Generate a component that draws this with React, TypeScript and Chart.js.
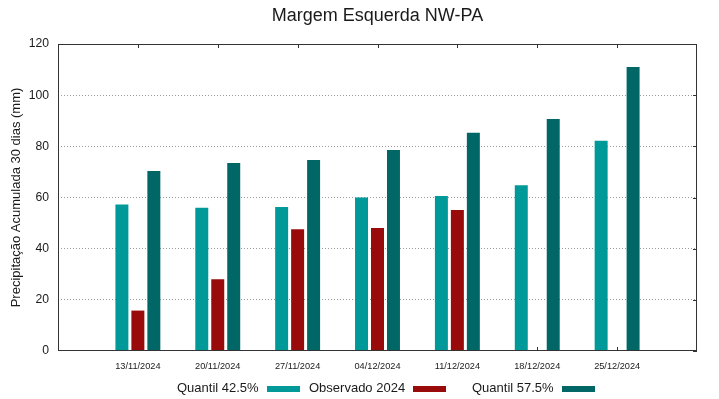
import React, { useEffect, useRef } from "react";
import { Chart, registerables } from "chart.js";

Chart.register(...registerables);

const titleText = "Margem Esquerda NW-PA";
const yAxisTitle = "Precipitação Acumulada 30 dias (mm)";
const categories = [
  "13/11/2024",
  "20/11/2024",
  "27/11/2024",
  "04/12/2024",
  "11/12/2024",
  "18/12/2024",
  "25/12/2024",
];
const quantil425 = [57.3, 56.0, 56.3, 60.0, 60.6, 64.8, 82.2];
const observado2024 = [15.8, 28.0, 47.6, 48.1, 55.1, null, null];
const quantil575 = [70.4, 73.5, 74.7, 78.6, 85.3, 90.7, 111.0];
const seriesLabels = ["Quantil 42.5%", "Observado 2024", "Quantil 57.5%"];
const seriesColors = ["#009999", "#990a0a", "#006666"];
const yMin = 0;
const yMax = 120;
const yStep = 20;

const FONT = "'Liberation Sans', Arial, sans-serif";
const TEXT = "#1a1a1a";

const pad = (arr: (number | null)[]) => [null, ...arr, null];

const framePlugin = {
  id: "frame",
  beforeDatasetsDraw(chart: any) {
    const { ctx, chartArea: a, scales } = chart;
    ctx.save();
    ctx.strokeStyle = "#333";
    ctx.lineWidth = 1;
    ctx.beginPath();
    for (let i = 1; i <= categories.length; i++) {
      const px = Math.round(scales.x.getPixelForValue(i)) + 0.5;
      ctx.moveTo(px, a.bottom);
      ctx.lineTo(px, a.bottom - 4);
      ctx.moveTo(px, a.top);
      ctx.lineTo(px, a.top + 4);
    }
    scales.y.ticks.forEach((t: any) => {
      const py = Math.round(scales.y.getPixelForValue(t.value)) + 0.5;
      ctx.moveTo(a.right, py);
      ctx.lineTo(a.right - 4, py);
    });
    ctx.stroke();
    ctx.restore();
  },
  afterDatasetsDraw(chart: any) {
    const { ctx, chartArea: a } = chart;
    ctx.save();
    ctx.strokeStyle = "#333";
    ctx.lineWidth = 1;
    ctx.strokeRect(
      Math.round(a.left) + 0.5,
      Math.round(a.top) + 0.5,
      Math.round(a.right) - Math.round(a.left) - 1,
      Math.round(a.bottom) - Math.round(a.top) - 1
    );
    ctx.restore();
  },
};

const legendPlugin = {
  id: "bottomLegend",
  afterDraw(chart: any) {
    const { ctx } = chart;
    const starts = [177, 309, 472];
    const cy = 388.5;
    ctx.save();
    ctx.font = `13px ${FONT}`;
    ctx.textBaseline = "middle";
    ctx.textAlign = "left";
    chart.data.datasets.forEach((ds: any, i: number) => {
      const x0 = starts[i];
      ctx.fillStyle = TEXT;
      ctx.fillText(ds.label, x0, cy);
      const w = ctx.measureText(ds.label).width;
      ctx.fillStyle = ds.backgroundColor;
      ctx.fillRect(Math.round(x0 + w + 8), Math.round(cy - 3), 33, 6);
    });
    ctx.restore();
  },
};

export default function App() {
  const ref = useRef<HTMLCanvasElement | null>(null);

  useEffect(() => {
    if (!ref.current) return;
    const chart = new Chart(ref.current, {
      type: "bar",
      data: {
        labels: ["", ...categories, ""],
        datasets: [
          { label: seriesLabels[0], data: pad(quantil425), backgroundColor: seriesColors[0] },
          { label: seriesLabels[1], data: pad(observado2024), backgroundColor: seriesColors[1] },
          { label: seriesLabels[2], data: pad(quantil575), backgroundColor: seriesColors[2] },
        ],
      },
      options: {
        responsive: false,
        animation: false,
        devicePixelRatio: 1,
        events: [],
        layout: { padding: { left: 0, right: 22, top: 0, bottom: 0 } },
        datasets: {
          bar: { categoryPercentage: 0.6, barPercentage: 0.8125, borderWidth: 0 },
        },
        plugins: {
          legend: { display: false },
          tooltip: { enabled: false },
          title: {
            display: true,
            text: titleText,
            fullSize: false,
            color: TEXT,
            font: { family: FONT, size: 18, weight: "normal" },
            padding: { top: 4.8, bottom: 17.6 },
          },
        },
        scales: {
          x: {
            type: "category",
            offset: false,
            grid: { display: false, drawTicks: false },
            border: { display: false },
            ticks: {
              autoSkip: false,
              maxRotation: 0,
              minRotation: 0,
              padding: 10,
              color: TEXT,
              font: { family: FONT, size: 9.2 },
            },
            afterFit: (s: any) => {
              s.height = 48;
            },
          },
          y: {
            min: yMin,
            max: yMax,
            grid: {
              drawTicks: false,
              color: (c: any) =>
                c.tick && (c.tick.value === yMin || c.tick.value === yMax) ? "rgba(0,0,0,0)" : "#999",
              lineWidth: 1,
            },
            border: { display: false, dash: [1, 2] },
            ticks: {
              stepSize: yStep,
              padding: 9,
              color: TEXT,
              font: { family: FONT, size: 12.2 },
            },
            title: {
              display: true,
              text: yAxisTitle,
              color: TEXT,
              font: { family: FONT, size: 13 },
              padding: { top: 9, bottom: 0 },
            },
            afterFit: (s: any) => {
              s.width = 58;
            },
          },
        },
      },
      plugins: [framePlugin, legendPlugin],
    });
    return () => chart.destroy();
  }, []);

  return (
    <canvas
      ref={ref}
      width={719}
      height={399}
      style={{ position: "absolute", left: 0, top: 0, width: 719, height: 399 }}
    />
  );
}
